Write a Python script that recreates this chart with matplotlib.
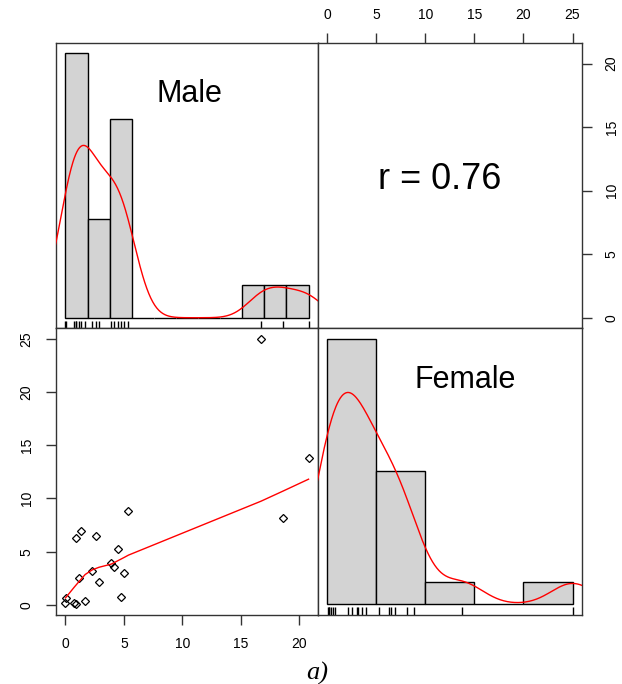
import matplotlib
matplotlib.use('Agg')
import matplotlib.pyplot as plt
import numpy as np

plt.rcParams['font.family'] = ['Liberation Sans', 'DejaVu Sans']

# valores (mesma ordem nos dois vetores = pares do scatter)
male = np.array([16.74, 20.81, 18.60, 5.39, 1.32, 0.89, 2.58, 4.53, 3.90, 4.13,
                 2.29, 5.02, 1.18, 2.87, 4.79, 1.69, 0.03, 0.00, 0.75, 0.86])
female = np.array([25.0, 13.77, 8.18, 8.81, 6.90, 6.33, 6.46, 5.27, 3.92, 3.54,
                   3.14, 3.04, 2.51, 2.16, 0.78, 0.34, 0.60, 0.22, 0.19, 0.09])
names = ['Male', 'Female']
r_label = 'r = 0.76'
male_nbins = 11
female_breaks = [0, 5, 10, 15, 20, 25]
male_ticks = [0, 5, 10, 15, 20]
female_ticks = [0, 5, 10, 15, 20, 25]

LINE = '#333333'


def ext(x):
    # faixa com 4% de folga, igual ao R
    r = x.max() - x.min()
    return (x.min() - 0.04 * r, x.max() + 0.04 * r)


def bw_nrd0(x):
    q75, q25 = np.percentile(x, [75, 25])
    lo = min(np.std(x, ddof=1), (q75 - q25) / 1.34)
    return 0.9 * lo * len(x) ** -0.2


def kde(x, grid, bw):
    z = (grid[:, None] - x[None, :]) / bw
    return np.exp(-0.5 * z ** 2).sum(1) / (len(x) * bw * np.sqrt(2 * np.pi))


def lowess(x, y, f=2 / 3, it=3):
    o = np.argsort(x)
    x, y = x[o], y[o]
    n = len(x)
    ns = max(2, min(n, int(f * n + 1e-7)))
    rw = np.ones(n)
    fit = np.zeros(n)
    for k in range(it + 1):
        for i in range(n):
            d = np.abs(x - x[i])
            h = np.sort(d)[ns - 1]
            u = np.clip(d / max(h, 1e-12), 0, 1)
            w = (1 - u ** 3) ** 3 * rw
            sw = w.sum()
            xm = (w * x).sum() / sw
            ym = (w * y).sum() / sw
            sxx = (w * (x - xm) ** 2).sum()
            b = (w * (x - xm) * (y - ym)).sum() / sxx if sxx > 1e-12 else 0
            fit[i] = ym + b * (x[i] - xm)
        res = y - fit
        s = 6 * np.median(np.abs(res))
        u = np.clip(res / s, -1, 1)
        rw = (1 - u ** 2) ** 2
    return x, fit


def hist_panel(ax, x, breaks):
    counts, edges = np.histogram(x, bins=breaks)
    w = np.diff(edges)
    dens = counts / (len(x) * w)
    top = dens.max()
    ax.bar(edges[:-1], dens / top, width=w, align='edge', color='#d3d3d3',
           edgecolor='black', linewidth=1, zorder=2)
    bw = bw_nrd0(x)
    grid = np.linspace(x.min() - 3 * bw, x.max() + 3 * bw, 512)
    ax.plot(grid, kde(x, grid, bw) / top, color='red', lw=1, zorder=3)
    ax.vlines(x, 0, 0.027, transform=ax.get_xaxis_transform(), color='black', lw=1)
    ax.set_xlim(ext(x))
    ax.set_ylim(-0.04, 1.04)
    ax.set_xticks([])
    ax.set_yticks([])


fig = plt.figure(figsize=(6.22, 6.84), dpi=100)
L, M, R = 0.0896, 0.5117, 0.9362
B, C, T = 0.1016, 0.52, 0.9376

ax_tl = fig.add_axes([L, C, M - L, T - C])
ax_tr = fig.add_axes([M, C, R - M, T - C])
ax_bl = fig.add_axes([L, B, M - L, C - B])
ax_br = fig.add_axes([M, B, R - M, C - B])

hist_panel(ax_tl, male, np.linspace(male.min(), male.max(), male_nbins + 1))
hist_panel(ax_br, female, female_breaks)
ax_tl.text(0.51, 0.82, names[0], transform=ax_tl.transAxes, fontsize=22,
           ha='center', va='center')
ax_br.text(0.555, 0.82, names[1], transform=ax_br.transAxes, fontsize=22,
           ha='center', va='center')

# correlacao
ax_tr.set_xlim(ext(female))
ax_tr.set_ylim(ext(male))
ax_tr.text(0.46, 0.52, r_label, transform=ax_tr.transAxes, fontsize=26,
           ha='center', va='center')
ax_tr.set_xticks(female_ticks)
ax_tr.set_yticks(male_ticks)
ax_tr.xaxis.tick_top()
ax_tr.yaxis.tick_right()
ax_tr.tick_params(axis='x', pad=8)
ax_tr.tick_params(axis='y', pad=9)
for t in ax_tr.get_yticklabels():
    t.set_rotation(90)
    t.set_va('center')

# scatter
ax_bl.plot(male, female, 'D', mfc='none', mec='black', ms=4.2, mew=0.9)
lx, ly = lowess(male, female)
ax_bl.plot(lx, ly, color='red', lw=1)
ax_bl.set_xlim(ext(male))
ax_bl.set_ylim(ext(female))
ax_bl.set_xticks(male_ticks)
ax_bl.set_yticks(female_ticks)
ax_bl.tick_params(axis='both', pad=9)
for t in ax_bl.get_yticklabels():
    t.set_rotation(90)
    t.set_va('center')

for ax in [ax_tl, ax_tr, ax_bl, ax_br]:
    for s in ax.spines.values():
        s.set_color(LINE)
        s.set_linewidth(1)
    ax.tick_params(length=7, width=1, color=LINE, labelsize=10, direction='out')

fig.text(0.51, 0.016, 'a)', fontsize=19, style='italic',
         family=['Liberation Serif', 'DejaVu Serif'], ha='center', va='center')

fig.savefig('out.png', dpi=100)
